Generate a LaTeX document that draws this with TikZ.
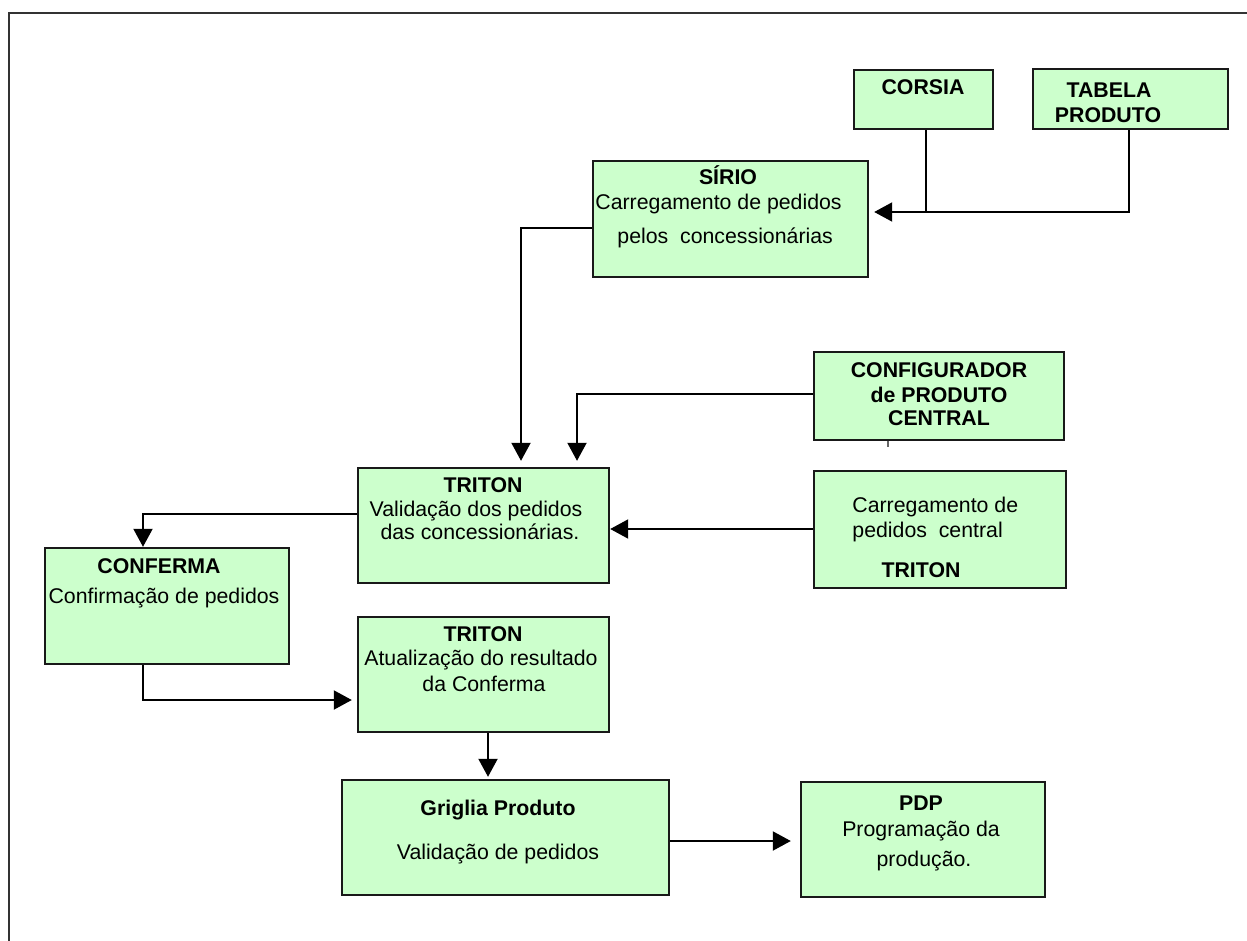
\documentclass[tikz,border=0pt]{standalone}
\usepackage{fontspec}
\setmainfont{Liberation Sans}
\usetikzlibrary{arrows.meta,fit}
\definecolor{boxgreen}{HTML}{CCFFCC}
\begin{document}
\begin{tikzpicture}[x=0.5pt,y=-0.5pt,
  blk/.style={draw=black!90, line width=1.2pt, fill=boxgreen, inner sep=0pt},
  txt/.style={inner sep=0pt, anchor=base, font=\fontsize{10.65pt}{12.5pt}\selectfont},
  txl/.style={txt, anchor=base west},
  hd/.style={txt, font=\fontsize{10.65pt}{12.5pt}\selectfont\bfseries},
  link/.style={line width=1pt, draw=black},
  arr/.style={link, -{Triangle[length=9pt,width=9.5pt]}},
]
\useasboundingbox (0,0) rectangle (1247,941);

% page frame (top and left rules)
\draw[line width=1.2pt, black!80] (9,941) -- (9,13) -- (1247,13);

% boxes
\node[blk, fit={(854,70) (993,129)}]    (corsia)   {};
\node[blk, fit={(1033,69) (1228,129)}]  (tabela)   {};
\node[blk, fit={(593,161) (868,277)}]   (sirio)    {};
\node[blk, fit={(814,352) (1064,440)}]  (config)   {};
\node[blk, fit={(814,471) (1066,588)}]  (central)  {};
\node[blk, fit={(358,468) (609,583)}]   (triton1)  {};
\node[blk, fit={(45,548) (289,664)}]    (conferma) {};
\node[blk, fit={(358,617) (609,732)}]   (triton2)  {};
\node[blk, fit={(342,780) (669,895)}]   (griglia)  {};
\node[blk, fit={(801,782) (1045,897)}]  (pdp)      {};

% box texts
\node[hd] (corsia-a) at (923,95) {CORSIA};

\node[hd] (tabela-a) at (1109,98) {TABELA};
\node[hd] (tabela-b) at (1108,123) {PRODUTO};

\node[hd]  (sirio-a) at (728,185) {SÍRIO};
\node[txl] (sirio-b) at (595,210) {Carregamento de pedidos};
\node[txl] (sirio-c) at (617,243) {pelos\ \ concessionárias};

\node[hd] (config-a) at (939,377) {CONFIGURADOR};
\node[hd] (config-b) at (939,402) {de PRODUTO};
\node[hd] (config-c) at (939,425) {CENTRAL};

\node[txl] (central-a) at (852,512) {Carregamento de};
\node[txl] (central-b) at (852,537) {pedidos\ \ central};
\node[hd]  (central-c) at (921,577) {TRITON};

\node[hd]  (triton1-a) at (483,492) {TRITON};
\node[txt] (triton1-b) at (476,516) {Validação dos pedidos};
\node[txt] (triton1-c) at (480,539) {das concessionárias.};

\node[hd]  (conferma-a) at (159,573) {CONFERMA};
\node[txt] (conferma-b) at (164,603) {Confirmação de pedidos};

\node[hd]  (triton2-a) at (483,641) {TRITON};
\node[txt] (triton2-b) at (481,665) {Atualização do resultado};
\node[txt] (triton2-c) at (484,691) {da Conferma};

\node[hd]  (griglia-a) at (498,815) {Griglia Produto};
\node[txt] (griglia-b) at (498,859) {Validação de pedidos};

\node[hd]  (pdp-a) at (921,810) {PDP};
\node[txt] (pdp-b) at (921,836) {Programação da};
\node[txt] (pdp-c) at (924,866) {produção.};

% connector bends
\coordinate (cx) at (926,212);
\coordinate (tx) at (1129,212);
\coordinate (sx) at (521,228);
\coordinate (gx) at (577,394);
\coordinate (ry) at (0,529);
\coordinate (fx) at (143,514);
\coordinate (ex) at (143,700);
\coordinate (dx) at (488,0);
\coordinate (py) at (0,841);
\coordinate (tk) at (888,0);

% connectors
\draw[link] (corsia.south -| cx) -- (cx);
\draw[arr, shorten >=2.5pt] (tabela.south -| tx) -- (tx) -- (sirio.east |- tx);
\draw[arr, shorten >=3pt] (sirio.west |- sx) -- (sx) -- (triton1.north -| sx);
\draw[arr, shorten >=3pt] (config.west |- gx) -- (gx) -- (triton1.north -| gx);
\draw[arr] (central.west |- ry) -- (triton1.east |- ry);
\draw[arr] (triton1.west |- fx) -- (fx) -- (conferma.north -| fx);
\draw[arr, shorten >=2.5pt] (conferma.south -| ex) -- (ex) -- (triton2.west |- ex);
\draw[arr, shorten >=1pt] (triton2.south -| dx) -- (griglia.north -| dx);
\draw[arr, shorten >=4.5pt] (griglia.east |- py) -- (pdp.west |- py);

% small tick under the configurator box
\draw[line width=0.6pt, black!60] (config.south -| tk) -- ++(0,6);
\end{tikzpicture}
\end{document}
